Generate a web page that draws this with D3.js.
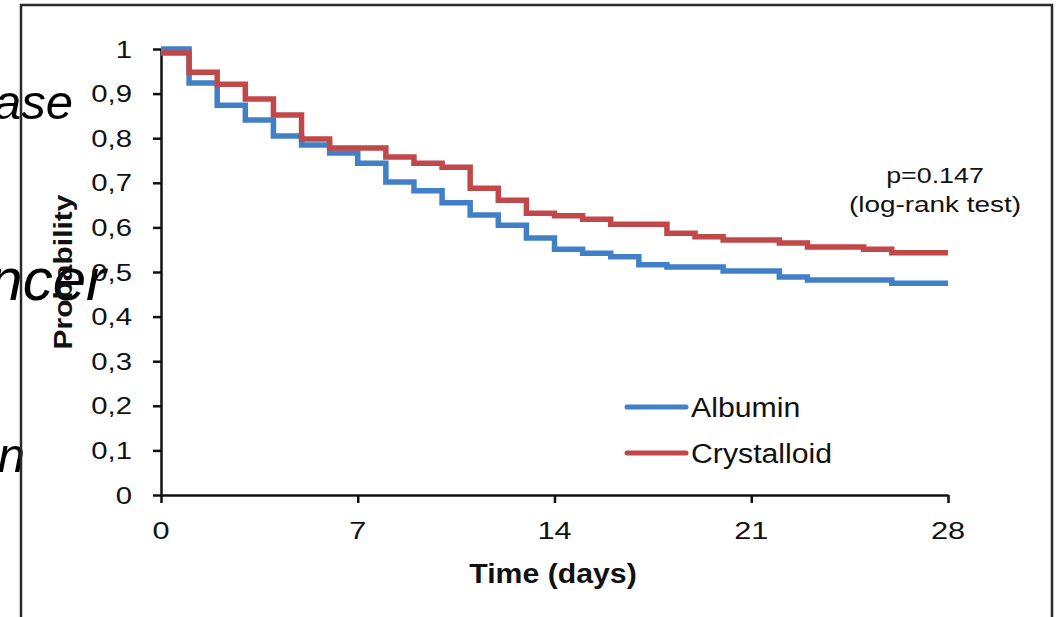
<!DOCTYPE html>
<html>
<head>
<meta charset="utf-8">
<script src="https://cdn.jsdelivr.net/npm/d3@7"></script>
<style>
  html, body { margin: 0; padding: 0; background: #fff; }
  svg { display: block; }
  text { font-family: "Liberation Sans", Arial, sans-serif; fill: #111; }
</style>
</head>
<body>
<svg id="chart" width="1059" height="617"></svg>
<script>
// ---- Data ----
const albuminDays = [0,1,2,3,4,5,6,7,8,9,10,11,12,13,14,15,16,17,18,20,22,23,26,28];
const albuminSurv = [1.0,0.924,0.874,0.841,0.805,0.785,0.767,0.744,0.702,0.682,0.655,0.628,0.605,0.576,0.551,0.542,0.534,0.516,0.511,0.502,0.489,0.482,0.475,0.475];
const crystDays = [0,1,2,3,4,5,6,8,9,10,11,12,13,14,15,16,18,19,20,22,23,25,26,28];
const crystSurv = [0.991,0.948,0.921,0.888,0.852,0.798,0.778,0.758,0.744,0.735,0.688,0.661,0.632,0.626,0.618,0.607,0.587,0.579,0.572,0.565,0.556,0.551,0.543,0.543];
const seriesNames = ["Albumin", "Crystalloid"];
const xTicks = [0, 7, 14, 21, 28];
const yTicks = [0, 0.1, 0.2, 0.3, 0.4, 0.5, 0.6, 0.7, 0.8, 0.9, 1];
const yTickLabels = ["0","0,1","0,2","0,3","0,4","0,5","0,6","0,7","0,8","0,9","1"];
const xTitle = "Time (days)";
const yTitle = "Probability";
const pText = ["p=0.147", "(log-rank test)"];
const fragments = ["ase", "ncer", "n"];

// ---- Styles ----
const colors = { Albumin: "#4180c6", Crystalloid: "#c1484a" };

const svg = d3.select("#chart");
const x = d3.scaleLinear().domain([0, 28]).range([161, 948]);
const y = d3.scaleLinear().domain([0, 1]).range([495, 49]);

// background fragments of slide text (italic)
const fragPos = [
  { x: 73, y: 119, fs: 49 },
  { x: 106, y: 300, fs: 60 },
  { x: 25, y: 472, fs: 49 }
];
svg.selectAll("text.frag").data(fragments).join("text")
  .attr("class", "frag")
  .attr("x", (d, i) => fragPos[i].x)
  .attr("y", (d, i) => fragPos[i].y)
  .attr("text-anchor", "end")
  .style("font-style", "italic")
  .style("font-size", (d, i) => fragPos[i].fs + "px")
  .style("fill", "#000")
  .text(d => d);

// frame
svg.append("rect")
  .attr("x", 21).attr("y", 5).attr("width", 1031).attr("height", 700)
  .attr("fill", "none").attr("stroke", "#2a2a2a").attr("stroke-width", 2.5);

// axes
const yAxis = d3.axisLeft(y).tickValues(yTicks).tickFormat("").tickSize(8).tickSizeOuter(0);
const xAxis = d3.axisBottom(x).tickValues(xTicks).tickFormat("").tickSize(8).tickSizeOuter(0);
const gy = svg.append("g").attr("transform", "translate(161,0)").call(yAxis);
const gx = svg.append("g").attr("transform", "translate(0,495)").call(xAxis);
[gy, gx].forEach(g => {
  g.selectAll("path, line").attr("stroke", "#111").attr("stroke-width", 2.5);
});

// tick labels
svg.selectAll("text.ylab").data(yTicks).join("text")
  .attr("class", "ylab")
  .attr("transform", d => `translate(132,${y(d) + 8.5}) scale(1.22,1)`)
  .attr("text-anchor", "end")
  .style("font-size", "24px")
  .text((d, i) => yTickLabels[i]);
svg.selectAll("text.xlab").data(xTicks).join("text")
  .attr("class", "xlab")
  .attr("transform", d => `translate(${x(d)},539) scale(1.28,1)`)
  .attr("text-anchor", "middle")
  .style("font-size", "24px")
  .text(d => d);

// axis titles
svg.append("text")
  .attr("transform", "translate(553,583) scale(1.12,1)")
  .attr("text-anchor", "middle")
  .style("font-size", "27px").style("font-weight", "bold")
  .text(xTitle);
svg.append("text")
  .attr("transform", "translate(72,272) rotate(-90) scale(1.2,1)")
  .attr("text-anchor", "middle")
  .style("font-size", "25px").style("font-weight", "bold")
  .text(yTitle);

// curves
const line = d3.line().x(d => x(d[0])).y(d => y(d[1])).curve(d3.curveStepAfter);
const seriesData = [
  { name: "Albumin", pts: albuminDays.map((d, i) => [d, albuminSurv[i]]) },
  { name: "Crystalloid", pts: crystDays.map((d, i) => [d, crystSurv[i]]) }
];
svg.selectAll("path.km").data(seriesData).join("path")
  .attr("class", "km")
  .attr("d", d => line(d.pts))
  .attr("fill", "none")
  .attr("stroke", d => colors[d.name])
  .attr("stroke-width", 5.5)
  .attr("stroke-linejoin", "miter");

// p-value annotation
svg.append("text")
  .attr("transform", "translate(935,183) scale(1.22,1)")
  .attr("text-anchor", "middle").style("font-size", "22px")
  .text(pText[0]);
svg.append("text")
  .attr("transform", "translate(935,212) scale(1.27,1)")
  .attr("text-anchor", "middle").style("font-size", "22px")
  .text(pText[1]);

// legend
const legY = [407, 453];
const leg = svg.selectAll("g.leg").data(seriesNames).join("g")
  .attr("class", "leg")
  .attr("transform", (d, i) => `translate(0,${legY[i]})`);
leg.append("line")
  .attr("x1", 627).attr("x2", 686).attr("y1", 0).attr("y2", 0)
  .attr("stroke", d => colors[d]).attr("stroke-width", 5).attr("stroke-linecap", "round");
leg.append("text")
  .attr("transform", "translate(691,10) scale(1.12,1)")
  .style("font-size", "27px")
  .text(d => d);
</script>
</body>
</html>
